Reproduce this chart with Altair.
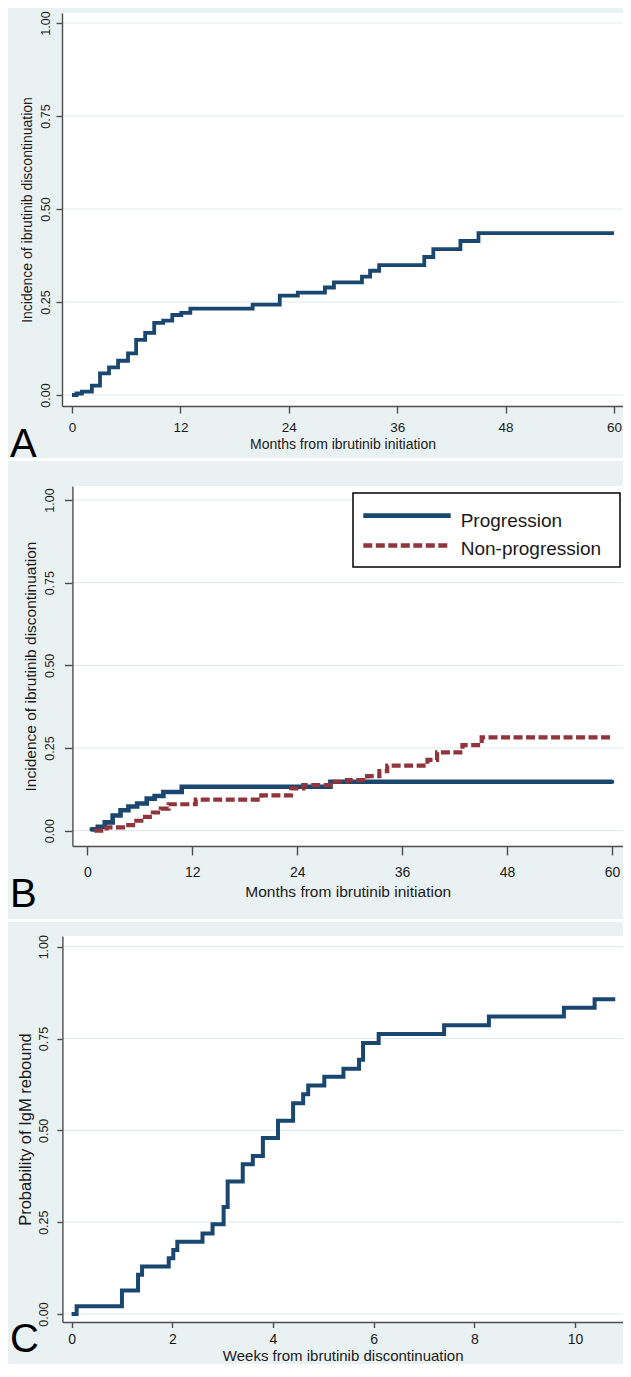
import altair as alt
import pandas as pd

# ---------------- data ----------------
y_ticks = [0.0, 0.25, 0.5, 0.75, 1.0]

# Panel A: cumulative incidence of ibrutinib discontinuation
a_months = [0, 0.5, 1.1, 2.2, 3.1, 4.1, 5.1, 6.2, 7.1, 8.1, 9.1, 10.1, 11.1, 12.1, 13.1,
            20.0, 23.0, 25.0, 28.0, 29.0, 32.1, 33.0, 34.0, 39.0, 40.0, 43.0, 45.0, 60.0]
a_incidence = [0.000, 0.004, 0.009, 0.025, 0.058, 0.074, 0.092, 0.112, 0.148, 0.167, 0.194,
               0.200, 0.215, 0.221, 0.232, 0.243, 0.267, 0.275, 0.289, 0.303, 0.318, 0.334,
               0.349, 0.371, 0.392, 0.414, 0.435, 0.435]
a_xticks = [0, 12, 24, 36, 48, 60]

# Panel B: by reason
b_series = ["Progression", "Non-progression"]
b_prog_months = [0.5, 1.2, 2.0, 2.9, 3.8, 4.7, 5.7, 6.8, 7.7, 8.7, 10.8, 27.8, 60.0]
b_prog_incidence = [0.004, 0.012, 0.025, 0.046, 0.062, 0.073, 0.082, 0.097, 0.105, 0.117,
                    0.133, 0.148, 0.148]
b_nonprog_months = [0.8, 2.2, 4.4, 5.6, 6.6, 7.5, 8.4, 9.3, 12.4, 19.9, 23.3, 24.7, 28.3,
                    29.7, 32.0, 33.4, 34.3, 38.9, 40.0, 42.9, 45.1, 60.0]
b_nonprog_incidence = [0.000, 0.010, 0.017, 0.030, 0.042, 0.055, 0.067, 0.080, 0.094, 0.107,
                       0.128, 0.138, 0.148, 0.153, 0.165, 0.180, 0.197, 0.214, 0.237, 0.259,
                       0.282, 0.282]
b_xticks = [0, 12, 24, 36, 48, 60]

# Panel C: IgM rebound
c_weeks = [0, 0.1, 1.0, 1.32, 1.4, 1.93, 2.02, 2.1, 2.6, 2.8, 3.02, 3.1, 3.4, 3.6, 3.8,
           4.1, 4.4, 4.6, 4.7, 5.02, 5.4, 5.71, 5.79, 6.1, 7.4, 8.29, 9.78, 10.39, 10.8]
c_probability = [0.000, 0.021, 0.064, 0.107, 0.129, 0.152, 0.174, 0.197, 0.219, 0.244, 0.291,
                 0.361, 0.408, 0.430, 0.479, 0.526, 0.574, 0.598, 0.622, 0.646, 0.668, 0.692,
                 0.738, 0.762, 0.786, 0.810, 0.834, 0.857, 0.857]
c_xticks = [0, 2, 4, 6, 8, 10]

# ---------------- styling ----------------
NAVY = "#1A476F"
MAROON = "#90353B"
BG = "#EAF1F3"
GRID = "#E3EAED"
AXC = "#4D4D4D"
TXT = "#1A1A1A"
FONT = "Liberation Sans"
DASH = [9, 3.5]

CW, CH = 615, 1356   # whole canvas in pixels

one = pd.DataFrame({"k": [0]})


def prect(x1, x2, y1, y2, color):
    return alt.Chart(one).mark_rect(color=color, strokeWidth=0).encode(
        x=alt.value(x1), x2=alt.value(x2), y=alt.value(y1), y2=alt.value(y2))


def ptext(txt, x, y, size, color=TXT):
    return alt.Chart(one).mark_text(text=txt, font=FONT, fontSize=size, align="left",
                                    baseline="alphabetic", color=color).encode(
        x=alt.value(x), y=alt.value(y))


def panel(p, series):
    xs = alt.Scale(domain=p["xdom"], range=[p["left"], CW], nice=False, zero=False)
    ys = alt.Scale(domain=p["ydom"], range=[p["bottom"], p["top"]], nice=False, zero=False)
    xaxis = alt.Axis(orient="bottom", offset=p["bottom"] - CH, values=p["xticks"], format="d",
                     title=p["xtitle"], grid=False, zindex=1,
                     domainColor=AXC, domainWidth=1.4, tickColor=AXC, tickWidth=1.4,
                     tickSize=p["xtick"], labelPadding=p["xpad"], labelFont=FONT,
                     labelFontSize=p["xlfs"], labelColor=TXT, labelFlush=False,
                     labelOverlap=False, titleFont=FONT, titleFontSize=p["xtfs"],
                     titleFontWeight="normal", titleColor=TXT,
                     titleX=(p["left"] + CW) / 2, titleY=p["xtitleY"],
                     titleAlign="center", titleBaseline="alphabetic")
    yaxis = alt.Axis(orient="left", offset=-p["left"], values=y_ticks, format=".2f",
                     title=p["ytitle"], grid=False, zindex=1,
                     domainColor=AXC, domainWidth=1.4, tickColor=AXC, tickWidth=1.4,
                     tickSize=p["ytick"], labelPadding=p["ypad"], labelFont=FONT,
                     labelFontSize=p["ylfs"], labelColor=TXT, labelAngle=270,
                     labelAlign="center", labelBaseline="bottom", labelOverlap=False,
                     labelFlush=False, titleFont=FONT, titleFontSize=p["ytfs"],
                     titleFontWeight="normal", titleColor=TXT, titleX=p["ytitleX"],
                     titleY=(p["top"] + p["bottom"]) / 2, titleAngle=270,
                     titleBaseline="middle", titleAlign="center")
    grid = alt.Chart(pd.DataFrame({"y": y_ticks})).mark_rule(
        color=GRID, strokeWidth=1.2).encode(
        y=alt.Y("y:Q", scale=ys, axis=yaxis), x=alt.value(p["left"]), x2=alt.value(CW))
    layers = [grid]
    for t, v, color, width, dash, cap in series:
        kw = dict(interpolate="step-after", color=color, strokeWidth=width,
                  strokeCap=cap, strokeJoin="miter")
        if dash:
            kw["strokeDash"] = dash
        layers.append(
            alt.Chart(pd.DataFrame({"t": t, "y": v})).mark_line(**kw).encode(
                x=alt.X("t:Q", scale=xs, axis=xaxis), y=alt.Y("y:Q", scale=ys, axis=yaxis)))
    return alt.layer(*layers)


# plot rectangles in canvas pixels: left, top, bottom (right edge = canvas edge)
pA = dict(left=54, top=5, bottom=398, xdom=[-1.107, 61.0], ydom=[-0.0296, 1.0269],
          xticks=a_xticks, xtitle="Months from ibrutinib initiation",
          ytitle="Incidence of ibrutinib discontinuation",
          xtick=7, xpad=7, xlfs=13.5, xtfs=14, xtitleY=42,
          ytick=6, ypad=3.2, ylfs=12.5, ytfs=14, ytitleX=-35)
pB = dict(left=64.4, top=478, bottom=838, xdom=[-1.704, 61.26], ydom=[-0.0463, 1.0423],
          xticks=b_xticks, xtitle="Months from ibrutinib initiation",
          ytitle="Incidence of ibrutinib discontinuation",
          xtick=9, xpad=10.7, xlfs=14, xtfs=15.5, xtitleY=50.7,
          ytick=8, ypad=7.6, ylfs=12.5, ytfs=15.5, ytitleX=-41.6)
pC = dict(left=54.4, top=928, bottom=1314, xdom=[-0.183, 10.954], ydom=[-0.0218, 1.0291],
          xticks=c_xticks, xtitle="Weeks from ibrutinib discontinuation",
          ytitle="Probability of IgM rebound",
          xtick=5.5, xpad=4.5, xlfs=14, xtfs=15, xtitleY=38,
          ytick=5.5, ypad=6.3, ylfs=12.5, ytfs=16.5, ytitleX=-37)

panelA = panel(pA, [(a_months, a_incidence, NAVY, 3.8, None, "butt")])
panelB = panel(pB, [(b_prog_months, b_prog_incidence, NAVY, 4.6, None, "round"),
                    (b_nonprog_months, b_nonprog_incidence, MAROON, 4.2, DASH, "butt")])
panelC = panel(pC, [(c_weeks, c_probability, NAVY, 4.0, None, "butt")])

backdrop = [
    prect(0, CW, 450, 453, "white"),      # gap between A and B
    prect(0, CW, 911, 914, "white"),      # gap between B and C
    prect(pA["left"], CW, pA["top"], pA["bottom"], "white"),
    prect(pB["left"], CW, pB["top"], pB["bottom"], "white"),
    prect(pC["left"], CW, pC["top"], pC["bottom"], "white"),
]

legend = [
    alt.Chart(one).mark_rect(fill="white", stroke="black", strokeWidth=1.5).encode(
        x=alt.value(345), x2=alt.value(612), y=alt.value(485), y2=alt.value(559)),
    alt.Chart(one).mark_rule(color=NAVY, strokeWidth=4.8).encode(
        x=alt.value(355.3), x2=alt.value(442.7), y=alt.value(507.7)),
    alt.Chart(one).mark_rule(color=MAROON, strokeWidth=4.5, strokeDash=DASH).encode(
        x=alt.value(355.3), x2=alt.value(442.7), y=alt.value(537.5)),
    ptext(b_series[0], 452.7, 518.7, 19),
    ptext(b_series[1], 452.7, 547, 19),
]

letters = [
    ptext("A", 2, 449, 40, "black"),
    ptext("B", 2, 899, 40, "black"),
    ptext("C", 2, 1344, 40, "black"),
]

chart = (
    alt.layer(*backdrop, panelA, panelB, panelC, *legend, *letters)
    .resolve_scale(x="independent", y="independent")
    .resolve_axis(x="independent", y="independent")
    .properties(width=CW, height=CH, padding=0, background=BG,
                autosize=alt.AutoSizeParams(type="none"))
    .configure_view(strokeWidth=0)
)

chart.save("out.html", embed_options={"renderer": "svg", "actions": False})
